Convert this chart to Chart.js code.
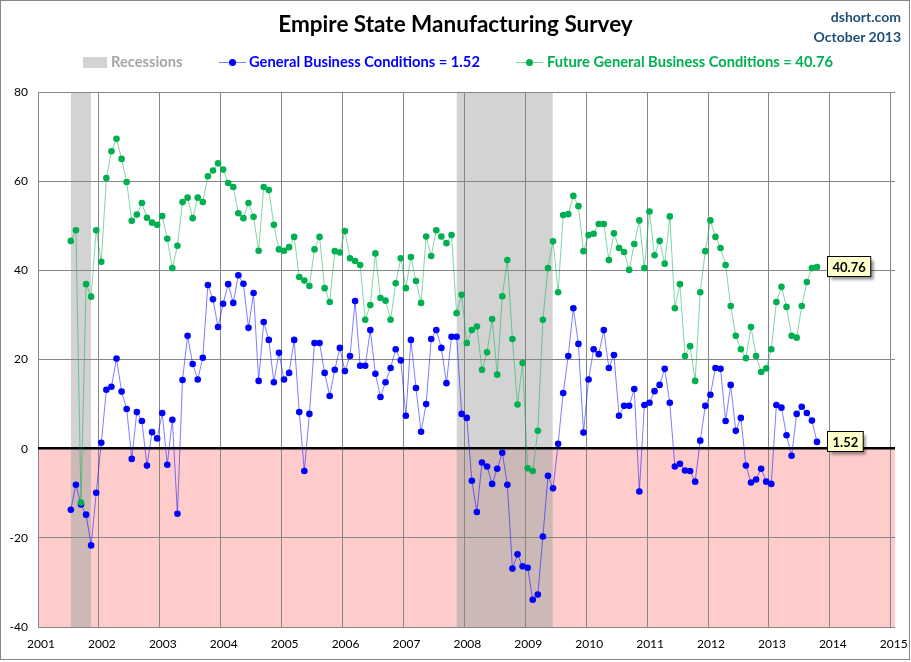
<!DOCTYPE html>
<html><head><meta charset="utf-8">
<script src="https://cdn.jsdelivr.net/npm/chart.js@4.4.0/dist/chart.umd.min.js"></script>
<style>
html,body{margin:0;padding:0;background:#fff;}
#wrap{position:relative;width:911px;height:662px;overflow:hidden;background:#fff;}
#frame{position:absolute;left:0;top:0;width:908px;height:658px;border:1px solid #868686;pointer-events:none;}
canvas{position:absolute;left:0;top:0;}
.t{position:absolute;font-family:Lato,'Open Sans',sans-serif;font-weight:bold;white-space:nowrap;line-height:1;}
#title{left:0;width:911px;text-align:center;top:13px;font-size:22.5px;color:#000;}
#src1,#src2{right:10px;font-size:14px;color:#1F4E79;text-align:right;}
#src1{top:10px;} #src2{top:30px;}
.leg{top:54px;font-size:14.7px;}
.sw{position:absolute;}
</style></head>
<body>
<div id="wrap">
<canvas id="c" width="911" height="662"></canvas>
<div class="t" id="title">Empire State Manufacturing Survey</div>
<div class="t" id="src1">dshort.com</div>
<div class="t" id="src2">October 2013</div>
<div class="sw" style="left:83px;top:57px;width:24px;height:11px;background:#D3D3D3"></div>
<div class="t leg" id="legR" style="left:111px;color:#A6A6A6">Recessions</div>
<div class="sw" style="left:219px;top:62px;width:27px;height:1px;background:#7F7FFF"></div>
<div class="sw" style="left:229px;top:59px;width:7px;height:7px;border-radius:50%;background:#0000FF"></div>
<div class="t leg" id="legG" style="left:249px;color:#0000FF"></div>
<div class="sw" style="left:516px;top:62px;width:27px;height:1px;background:#7FD7A7"></div>
<div class="sw" style="left:526px;top:59px;width:7px;height:7px;border-radius:50%;background:#00B050"></div>
<div class="t leg" id="legF" style="left:547px;color:#00B050"></div>
<div id="frame"></div>
</div>
<script>
const startYear = 2001, startMonth = 7; // first observation: July 2001 (monthly)
const general = [
-13.7,-8.1,-12.5,-14.8,-21.7,-9.9,
1.3,13.2,13.9,20.2,12.8,8.9,-2.3,8.2,6.2,-3.8,3.7,2.3,
8.0,-3.6,6.5,-14.6,15.4,25.3,19.0,15.5,20.4,36.7,33.5,27.3,
32.5,36.9,32.7,38.9,37.0,27.1,34.9,15.2,28.4,24.4,14.9,21.5,
15.5,17.0,24.4,8.2,-5.0,7.8,23.7,23.7,17.0,11.8,17.7,22.6,
17.4,20.8,33.1,18.6,18.6,26.6,16.8,11.6,14.9,18.1,22.3,19.8,
7.4,24.4,13.6,3.8,10.0,24.6,26.6,22.6,14.7,25.1,25.1,7.8,
6.9,-7.2,-14.2,-3.1,-4.0,-7.9,-4.5,-0.9,-8.1,-26.9,-23.7,-26.4,
-26.7,-33.9,-32.7,-19.7,-6.1,-8.9,1.1,12.5,20.8,31.5,23.5,3.6,
15.5,22.3,21.2,26.6,18.1,21.0,7.4,9.6,9.6,13.4,-9.6,9.8,
10.3,12.9,14.3,17.9,10.3,-4.0,-3.4,-4.9,-5.0,-7.4,1.8,9.6,
12.1,18.1,17.9,6.2,14.3,4.0,6.9,-3.8,-7.6,-6.9,-4.5,-7.4,
-7.9,9.8,9.2,3.0,-1.6,7.8,9.4,8.0,6.3,1.52
];
const future = [
46.6,49.0,-12.1,36.9,34.1,49.0,
41.9,60.7,66.7,69.5,65.0,59.8,51.1,52.5,55.1,51.8,50.7,50.2,
52.2,47.1,40.5,45.5,55.3,56.3,51.7,56.3,55.3,61.1,62.4,64.0,
62.6,59.6,58.7,52.8,51.7,55.1,52.0,44.4,58.7,58.0,50.2,44.7,
44.4,45.2,47.5,38.5,37.7,36.5,44.7,47.5,36.0,32.9,44.3,44.0,
48.8,42.7,42.1,41.2,28.9,32.2,43.8,33.8,33.2,28.9,37.1,42.7,
36.0,43.0,37.6,32.7,47.6,43.2,49.0,47.6,46.1,47.9,30.4,34.5,
23.7,26.6,27.4,17.7,21.6,29.1,16.6,34.2,42.3,24.6,9.9,19.2,
-4.4,-5.0,4.0,28.9,40.5,46.5,35.1,52.4,52.6,56.7,54.4,44.3,
47.9,48.2,50.4,50.4,42.3,48.3,45.0,44.1,40.1,45.9,51.2,40.5,
53.2,43.4,46.6,41.5,52.1,31.5,36.9,20.8,23.0,15.2,35.1,44.3,
51.2,47.5,45.0,41.2,32.0,25.3,22.3,20.3,27.3,20.8,17.2,18.0,
22.3,32.9,36.3,31.8,25.3,24.9,32.0,37.4,40.5,40.76
];
const yearTicks = [2001,2002,2003,2004,2005,2006,2007,2008,2009,2010,2011,2012,2013,2014,2015];
const valueTicks = [80,60,40,20,0,-20,-40];
const recessionStart = [2001.54, 2007.875];
const recessionEnd = [2001.87, 2009.45];
const seriesNames = ['General Business Conditions', 'Future General Business Conditions'];

const fmt = v => v.toFixed(2);
document.getElementById('legG').textContent = seriesNames[0] + ' = ' + fmt(general[general.length-1]);
document.getElementById('legF').textContent = seriesNames[1] + ' = ' + fmt(future[future.length-1]);

const monthPos = general.map((_, i) => startYear + (startMonth - 1 + i + 0.47) / 12);
const toXY = arr => arr.map((v, i) => ({x: monthPos[i], y: v}));

const FONT = "Lato, 'Open Sans', sans-serif";

const bgPlugin = {
  id: 'bg',
  beforeDraw(chart) {
    const {ctx, chartArea: a, scales: {x, y}} = chart;
    const y0 = y.getPixelForValue(0);
    ctx.save();
    ctx.fillStyle = '#FFCCCC';
    ctx.fillRect(a.left, y0, a.right - a.left, a.bottom - y0);
    for (let k = 0; k < recessionStart.length; k++) {
      const x1 = x.getPixelForValue(recessionStart[k]);
      const x2 = x.getPixelForValue(recessionEnd[k]);
      ctx.fillStyle = '#D3D3D3';
      ctx.fillRect(x1, a.top, x2 - x1, y0 - a.top);
      ctx.fillStyle = '#CDB8B8';
      ctx.fillRect(x1, y0, x2 - x1, a.bottom - y0);
    }
    ctx.restore();
  }
};

const calloutPlugin = {
  id: 'callouts',
  afterDatasetsDraw(chart) {
    const {ctx} = chart;
    ctx.save();
    ctx.font = 'bold 13px ' + FONT;
    chart.data.datasets.forEach((ds, di) => {
      const meta = chart.getDatasetMeta(di);
      const last = meta.data[meta.data.length - 1];
      const val = ds.data[ds.data.length - 1].y;
      const txt = fmt(val);
      const w = ctx.measureText(txt).width + 10;
      const h = 20;
      const bx = Math.round(last.x + 10) + 0.5;
      const by = Math.round(last.y - h / 2 - 1) + 0.5;
      ctx.shadowColor = 'rgba(0,0,0,0.45)';
      ctx.shadowOffsetX = 3; ctx.shadowOffsetY = 3; ctx.shadowBlur = 3;
      ctx.fillStyle = '#FFFFCC';
      ctx.fillRect(bx, by, w, h);
      ctx.shadowColor = 'transparent';
      ctx.strokeStyle = '#000'; ctx.lineWidth = 1;
      ctx.strokeRect(bx, by, w, h);
      ctx.fillStyle = '#000';
      ctx.textAlign = 'center'; ctx.textBaseline = 'middle';
      ctx.fillText(txt, bx + w / 2, by + h / 2 + 1);
    });
    ctx.restore();
  }
};

new Chart(document.getElementById('c'), {
  type: 'line',
  data: {
    datasets: [
      {label: seriesNames[1], data: toXY(future), order: 0,
       borderColor: 'rgba(0,176,80,0.5)', borderWidth: 1,
       pointBackgroundColor: '#00B050', pointBorderColor: '#00B050', pointBorderWidth: 0, pointRadius: 3.3},
      {label: seriesNames[0], data: toXY(general), order: 1,
       borderColor: 'rgba(0,0,255,0.5)', borderWidth: 1,
       pointBackgroundColor: '#0000FF', pointBorderColor: '#0000FF', pointBorderWidth: 0, pointRadius: 3.3}
    ]
  },
  options: {
    responsive: false, animation: false, devicePixelRatio: 1,
    layout: {padding: {left: 0, right: 16, top: 92, bottom: 6}},
    plugins: {legend: {display: false}, tooltip: {enabled: false}},
    scales: {
      x: {type: 'linear', min: 2001, max: 2015.07,
        afterBuildTicks: s => { s.ticks = yearTicks.map(v => ({value: v})); },
        afterFit: s => { s.height = 29; s.paddingRight = 0; },
        grid: {color: '#868686', lineWidth: 1, drawTicks: false},
        border: {display: false},
        ticks: {color: '#000', font: {family: FONT, size: 12}, padding: 10, labelOffset: 3,
          maxRotation: 0, autoSkip: false, callback: v => String(v)}
      },
      y: {min: -40, max: 80,
        afterBuildTicks: s => { s.ticks = valueTicks.map(v => ({value: v})); },
        afterFit: s => { s.width = 38; },
        grid: {color: c => c.tick && c.tick.value === 0 ? '#000' : '#868686',
               lineWidth: c => c.tick && c.tick.value === 0 ? 2.5 : 1, drawTicks: false},
        border: {display: false},
        ticks: {color: '#000', font: {family: FONT, size: 12}, padding: 10}
      }
    }
  },
  plugins: [bgPlugin, calloutPlugin]
});
</script>
</body></html>
